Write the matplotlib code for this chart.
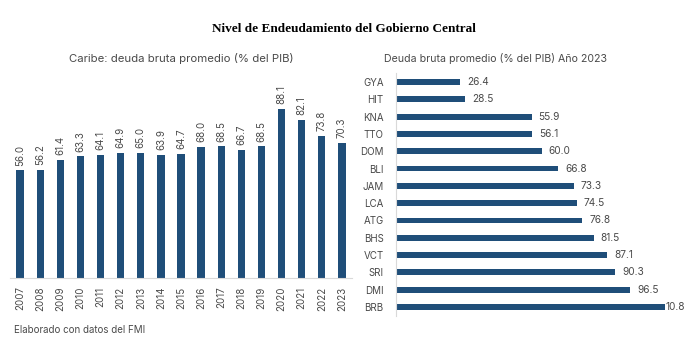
import numpy as np
import matplotlib.pyplot as plt

# left chart: average gross debt by year
years = ['2007', '2008', '2009', '2010', '2011', '2012', '2013', '2014', '2015',
         '2016', '2017', '2018', '2019', '2020', '2021', '2022', '2023']
debt_avg = [56.0, 56.2, 61.4, 63.3, 64.1, 64.9, 65.0, 63.9, 64.7,
            68.0, 68.5, 66.7, 68.5, 88.1, 82.1, 73.8, 70.3]

# right chart: debt by country in 2023
countries = ['GYA', 'HIT', 'KNA', 'TTO', 'DOM', 'BLI', 'JAM',
             'LCA', 'ATG', 'BHS', 'VCT', 'SRI', 'DMI', 'BRB']
debt_2023 = [26.4, 28.5, 55.9, 56.1, 60.0, 66.8, 73.3,
             74.5, 76.8, 81.5, 87.1, 90.3, 96.5, 110.8]
labels_2023 = ['26.4', '28.5', '55.9', '56.1', '60.0', '66.8', '73.3',
               '74.5', '76.8', '81.5', '87.1', '90.3', '96.5', '10.8']

bar_col = '#1f4e79'
txt_col = '#4a4a4a'
plt.rcParams['font.family'] = ['Inter', 'DejaVu Sans']

W, H = 693, 346
fig = plt.figure(figsize=(W / 100, H / 100), dpi=100)

def px_axes(x0, y0, x1, y1):
    # axes from pixel box (top-left origin)
    return fig.add_axes([x0 / W, 1 - y1 / H, (x1 - x0) / W, (y1 - y0) / H])

fig.text(344 / W, 1 - 29 / H, 'Nivel de Endeudamiento del Gobierno Central',
         family='Liberation Serif', weight='bold', fontsize=9.5,
         ha='center', va='center')
fig.text(181 / W, 1 - 58 / H, 'Caribe: deuda bruta promedio (% del PIB)',
         color=txt_col, fontsize=8.2, ha='center', va='center')
fig.text(496 / W, 1 - 58 / H, 'Deuda bruta promedio (% del PIB) Año 2023',
         color=txt_col, fontsize=7.6, ha='center', va='center')
fig.text(14 / W, 1 - 330 / H, 'Elaborado con datos del FMI',
         color=txt_col, fontsize=7, ha='left', va='center')

# left bar chart
ax1 = px_axes(10, 80, 352, 278)
x = np.arange(len(years))
ax1.bar(x, debt_avg, width=0.36, color=bar_col)
for xi, v in zip(x, debt_avg):
    ax1.text(xi, v + 2.5, f'{v:.1f}', rotation=90, ha='center', va='bottom',
             fontsize=7, color=txt_col)
ax1.set_xlim(-0.5, len(years) - 0.5)
ax1.set_ylim(0, 103)
ax1.set_xticks(x)
ax1.set_xticklabels(years, rotation=90, fontsize=7, color=txt_col)
ax1.tick_params(axis='x', length=0, pad=6)
ax1.set_yticks([])
for s in ['top', 'right', 'left']:
    ax1.spines[s].set_visible(False)
ax1.spines['bottom'].set_color('#d9d9d9')

# right horizontal bar chart
ax2 = px_axes(396, 73.4, 665, 315.6)
y = np.arange(len(countries))
ax2.barh(y, debt_2023, height=0.34, color=bar_col)
for yi, v, lab in zip(y, debt_2023, labels_2023):
    off = 0.3 if lab != f'{v:.1f}' else 2.8
    ax2.text(v + off, yi, lab, ha='left', va='center', fontsize=7.3,
             color=txt_col, clip_on=False)
ax2.set_ylim(len(countries) - 0.5, -0.5)
ax2.set_xlim(0, 110.8)
ax2.set_yticks(y)
ax2.set_yticklabels(countries, fontsize=7, color=txt_col)
ax2.tick_params(axis='y', length=0, pad=9)
ax2.set_xticks([])
for s in ['top', 'right', 'bottom']:
    ax2.spines[s].set_visible(False)
ax2.spines['left'].set_color('#d9d9d9')

fig.savefig('out.png', dpi=100)
